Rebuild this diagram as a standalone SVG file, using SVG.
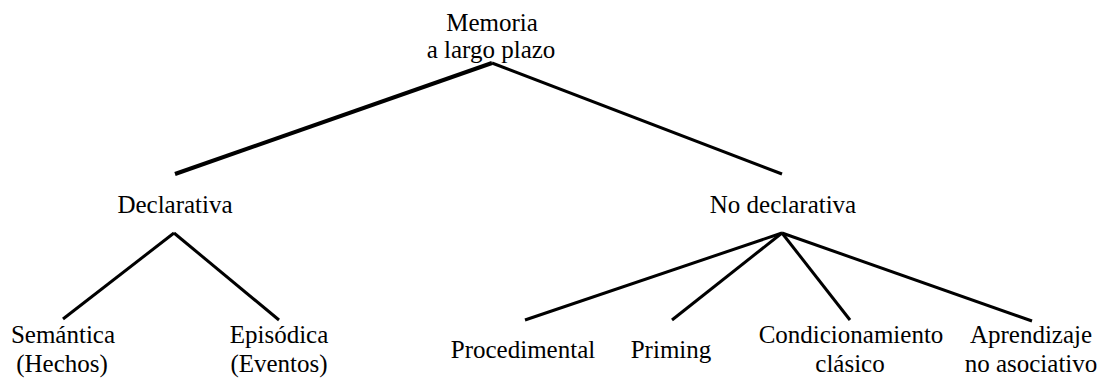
<svg xmlns="http://www.w3.org/2000/svg" width="1105" height="381" viewBox="0 0 1105 381">
<style>
text{font-family:"Liberation Serif","Times New Roman",serif;font-size:25px;fill:#000;text-anchor:middle}
.c line{stroke:#000;stroke-width:3;stroke-linecap:butt}
</style>
<rect width="1105" height="381" fill="#fff"/>
<g class="c" id="connectors">
<line x1="492" y1="63" x2="175" y2="174" style="stroke-width:4"/>
<line x1="492" y1="63" x2="782" y2="174"/>
<line x1="174" y1="233" x2="63" y2="319"/>
<line x1="174" y1="233" x2="279" y2="320"/>
<line x1="782" y1="233" x2="525" y2="320"/>
<line x1="782" y1="233" x2="672" y2="320"/>
<line x1="782" y1="233" x2="850" y2="320"/>
<line x1="782" y1="233" x2="1032" y2="321"/>
</g>
<g id="root"><text x="492" y="31">Memoria</text><text x="491" y="58">a largo plazo</text></g>
<g id="declarativa"><text x="175" y="213">Declarativa</text></g>
<g id="nodeclarativa"><text x="783" y="213">No declarativa</text></g>
<g id="semantica"><text x="63" y="343">Semántica</text><text x="62" y="372">(Hechos)</text></g>
<g id="episodica"><text x="279" y="343">Episódica</text><text x="279" y="372">(Eventos)</text></g>
<g id="procedimental"><text x="523" y="358">Procedimental</text></g>
<g id="priming"><text x="671" y="358">Priming</text></g>
<g id="condicionamiento"><text x="851" y="343">Condicionamiento</text><text x="850" y="372">clásico</text></g>
<g id="aprendizaje"><text x="1031" y="343">Aprendizaje</text><text x="1031" y="372">no asociativo</text></g>
</svg>
